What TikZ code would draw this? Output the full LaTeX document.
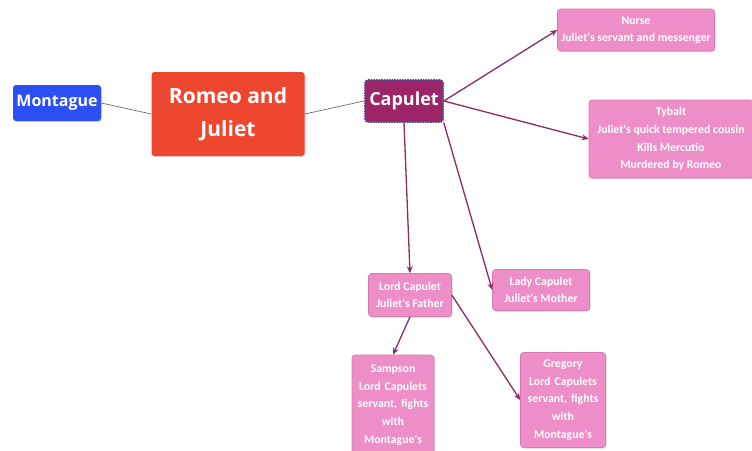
\documentclass[tikz,border=0pt]{standalone}
\usepackage{fontspec}
\setmainfont{Open Sans}
\newfontfamily\leaffont{Carlito}
\usetikzlibrary{arrows.meta,shadows}

\definecolor{montblue}{HTML}{2B4FF2}
\definecolor{titlered}{HTML}{EE4730}
\definecolor{capfill}{HTML}{9C2467}
\definecolor{capdots}{HTML}{4E4A8C}
\definecolor{pinkfill}{HTML}{EE8EC8}
\definecolor{pinkedge}{HTML}{D67AB1}
\definecolor{arrowcol}{HTML}{8E2A62}
\definecolor{linkgray}{HTML}{5A5A5A}

\begin{document}
\begin{tikzpicture}[x=1pt, y=-1pt,
  box/.style={rectangle, rounded corners=3pt, text=white, align=center, inner sep=2pt,
    drop shadow={shadow xshift=1pt, shadow yshift=-1.2pt, opacity=0.3}},
  leaf/.style={box, fill=pinkfill, draw=pinkedge, line width=0.6pt,
    font=\leaffont\bfseries\fontsize{11.8}{17.6}\selectfont},
  link/.style={draw=linkgray, line width=0.6pt},
  branch/.style={draw=arrowcol, line width=1.3pt, -{Stealth[length=7pt, width=6pt]}}]
  \clip (0,0) rectangle (752,450);
  % Nodes
  \node[box, fill=montblue, minimum width=88, minimum height=36,
    font=\bfseries\fontsize{16}{20}\selectfont] (montague) at (57,103) {Montague};
  \node[box, fill=titlered, minimum width=153, minimum height=84,
    font=\bfseries\fontsize{21}{33}\selectfont] (romeo) at (228,114) {Romeo and\\Juliet};
  \node[box, fill=capfill, draw=capdots, densely dotted, line width=1.6pt,
    minimum width=78, minimum height=42,
    font=\bfseries\fontsize{18}{22}\selectfont] (capulet) at (404,101) {Capulet};
  \node[leaf, minimum width=157, minimum height=42] (nurse) at (636,30)
    {Nurse\\Juliet's servant and messenger};
  \node[leaf, minimum width=164, minimum height=78] (tybalt) at (671,139)
    {Tybalt\\Juliet's quick tempered cousin\\Kills Mercutio\\Murdered by Romeo};
  \node[leaf, minimum width=83, minimum height=43] (lordcap) at (410,295)
    {Lord Capulet\\Juliet's Father};
  \node[leaf, minimum width=97, minimum height=41] (ladycap) at (541,290)
    {Lady Capulet\\Juliet's Mother};
  \node[leaf, minimum width=82, minimum height=100, text width=78] (sampson) at (393,405)
    {Sampson\\Lord Capulets\\servant, fights\\with\\Montague's};
  \node[leaf, minimum width=85, minimum height=95, text width=81] (gregory) at (563,400)
    {Gregory\\Lord Capulets\\servant, fights\\with\\Montague's};
  % Edges
  \draw[link] (montague.east) -- (romeo.west);
  \draw[link] (romeo.east) -- (capulet.west);
  \draw[branch] (capulet.east) -- (nurse.west);
  \draw[branch] (capulet.east) -- (tybalt.west);
  \draw[branch] (capulet.south) -- (lordcap.north);
  \draw[branch] (capulet.south east) -- (ladycap.west);
  \draw[branch] (lordcap.south) -- (sampson.north);
  \draw[branch] (lordcap.east) -- (gregory.west);
\end{tikzpicture}
\end{document}
